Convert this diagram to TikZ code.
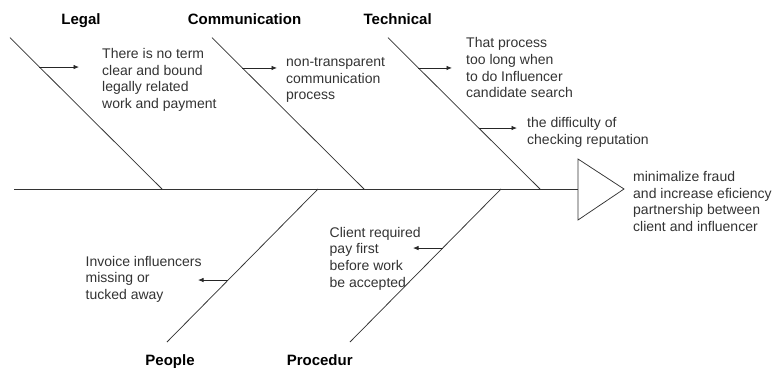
\documentclass[tikz,border=0pt]{standalone}
\usepackage{fontspec}
\setmainfont{Liberation Sans}
\usetikzlibrary{arrows.meta,calc}
\newcommand{\bonew}{152}
\newcommand{\spiney}{189}
\newcommand{\causeht}{11pt}

\begin{document}
\begin{tikzpicture}[x=1pt,y=-1pt,
        bone/.style={draw=black!80, line width=0.75pt},
        cause/.style={draw=black!85, line width=0.75pt, -{Latex[length=5.5pt,width=4.5pt]}},
        causetext/.style={anchor=north west, inner sep=0pt, align=left, text=black!80,
            font=\fontsize{14}{16.7}\selectfont,
            execute at begin node={\rule{0pt}{\causeht}}},
        bonelabel/.style={anchor=base, inner sep=0pt,
            font=\fontsize{15}{18}\selectfont\bfseries}]
    \useasboundingbox (0,0) rectangle (776,367);
    \begin{scope}[shift={(0,0)}]
        %\draw[help lines] (0,0) grid (776,367);
        % spine and head
        \coordinate (tail) at (14,\spiney);
        \coordinate (top head) at (578,159);
        \coordinate (tip head) at (624,\spiney);
        \coordinate (bottom head) at (578,220);
        \coordinate (head) at (578,\spiney);
        \draw[bone] (tail) -- (head);
        \draw[bone] (top head) -- (tip head) -- (bottom head) -- cycle;
        % upper bones
        \foreach \bn/\x/\lx/\lab in {legal/10/81/Legal, comm/212/244.5/Communication, tech/388/397.7/Technical} {
            \pgfmathsetmacro{\xf}{\x + \bonew}
            \coordinate (top \bn) at (\x,37.7);
            \coordinate (foot \bn) at (\xf,\spiney);
            \draw[bone] (top \bn) -- (foot \bn);
            \node[bonelabel] (label \bn) at (\lx,24) {\lab};
        }
        % lower bones
        \foreach \bn/\x/\lx/\lab in {people/167/170/People, proc/350/319.7/Procedur} {
            \pgfmathsetmacro{\xf}{\x + \bonew - 1}
            \coordinate (bottom \bn) at (\x,342);
            \coordinate (foot \bn) at (\xf,\spiney);
            \draw[bone] (bottom \bn) -- (foot \bn);
            \node[bonelabel] (label \bn) at (\lx,365) {\lab};
        }
        % points on the bones
        \path (top legal) -- (foot legal) coordinate[pos=0.194] (a legal);
        \path (top comm) -- (foot comm) coordinate[pos=0.200] (a comm);
        \path (top tech) -- (foot tech) coordinate[pos=0.200] (a tech);
        \path (top tech) -- (foot tech) coordinate[pos=0.597] (b tech);
        \path (foot people) -- (bottom people) coordinate[pos=0.595] (a people);
        \path (foot proc) -- (bottom proc) coordinate[pos=0.386] (a proc);
        % arrow tips
        \coordinate (tip legal) at (79,67);
        \coordinate (tip comm) at (277,68);
        \coordinate (tip tech) at (452,68);
        \coordinate (tip rep) at (517,128);
        \coordinate (tip people) at (198,280);
        \coordinate (tip proc) at (413,248);
        \draw[cause] (a legal) -- (a legal -| tip legal);
        \draw[cause] (a comm) -- (a comm -| tip comm);
        \draw[cause] (a tech) -- (a tech -| tip tech);
        \draw[cause] (b tech) -- (b tech -| tip rep);
        \draw[cause] (a people) -- (a people -| tip people);
        \draw[cause] (a proc) -- (a proc -| tip proc);
        % texts
        \node[causetext] (text legal) at (102,48) {There is no term\\clear and bound\\legally related\\work and payment};
        \node[causetext] (text comm) at (286,57.3) {non-transparent\\communication\\process};
        \node[causetext] (text tech) at (466,37.3) {That process\\too long when\\to do Influencer\\candidate search};
        \node[causetext] (text rep) at (527,117.5) {the difficulty of\\checking reputation};
        \node[causetext] (text goal) at (633,171) {minimalize fraud\\and increase eficiency\\partnership between\\client and influencer};
        \node[causetext] (text people) at (85.5,255.7) {Invoice influencers\\missing or\\tucked away};
        \node[causetext] (text proc) at (329.5,226.7) {Client required\\pay first\\before work\\be accepted};
    \end{scope}
\end{tikzpicture}
\end{document}
